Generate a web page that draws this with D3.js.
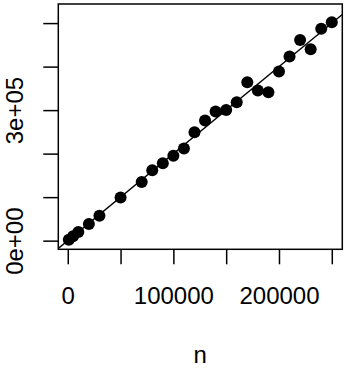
<!DOCTYPE html>
<html>
<head>
<meta charset="utf-8">
<script src="https://cdn.jsdelivr.net/npm/d3@7"></script>
<style>
  body { margin: 0; background: #fff; }
  text { font-family: "Liberation Sans", Arial, sans-serif; fill: #000; }
</style>
</head>
<body>
<div class="chart"></div>
<script>
var width = 357, height = 368;

// data
var nValues = [1000, 5000, 10000, 20000, 30000, 50000, 70000, 80000, 90000, 100000,
               110000, 120000, 130000, 140000, 150000, 160000, 170000, 180000, 190000,
               200000, 210000, 220000, 230000, 240000, 250000];
var yValues = [2000, 10000, 20000, 38000, 57000, 99000, 135000, 162000, 178000, 195000,
               212000, 249000, 276000, 297000, 300000, 318000, 364000, 345000, 341000,
               389000, 423000, 461000, 440000, 487000, 502000];
var fitLine = [0, 2]; // intercept, slope
var xLim = [1000, 250000];
var yLim = [1000, 523000];
var xTicks = [0, 50000, 100000, 150000, 200000, 250000];
var xTickLabels = ["0", "", "100000", "", "200000", ""];
var yTicks = [0, 100000, 200000, 300000, 400000, 500000];
var yTickLabels = ["0e+00", "", "", "3e+05", "", ""];

var box = { left: 58.3, right: 342.3, top: 4, bottom: 249.3 };

function pad(lim) { // R style 4% extension
    var d = (lim[1] - lim[0]) * 0.04;
    return [lim[0] - d, lim[1] + d];
}

var x = d3.scaleLinear().domain(pad(xLim)).range([box.left, box.right]);
var y = d3.scaleLinear().domain(pad(yLim)).range([box.bottom, box.top]);

var svg = d3.select(".chart").append("svg")
            .attr("width", width)
            .attr("height", height);

// fitted line, clipped to the box
svg.append("clipPath").attr("id", "clip")
   .append("rect")
   .attr("x", box.left).attr("y", box.top)
   .attr("width", box.right - box.left).attr("height", box.bottom - box.top);

var xd = x.domain();
svg.append("line")
   .attr("clip-path", "url(#clip)")
   .attr("x1", x(xd[0])).attr("y1", y(fitLine[0] + fitLine[1] * xd[0]))
   .attr("x2", x(xd[1])).attr("y2", y(fitLine[0] + fitLine[1] * xd[1]))
   .attr("stroke", "#000")
   .attr("stroke-width", 1.4);

svg.append("g").selectAll("circle")
   .data(nValues)
   .enter().append("circle")
   .attr("cx", function(d) { return x(d); })
   .attr("cy", function(d, i) { return y(yValues[i]); })
   .attr("r", 6)
   .attr("fill", "#000");

// axes
var xAxis = d3.axisBottom(x)
              .tickValues(xTicks)
              .tickFormat(function(d, i) { return xTickLabels[i]; })
              .tickSize(15)
              .tickPadding(22.7);

var gx = svg.append("g")
            .attr("transform", "translate(0," + box.bottom + ")")
            .call(xAxis);
gx.select(".domain").remove();

var yAxis = d3.axisLeft(y)
              .tickValues(yTicks)
              .tickFormat(function(d, i) { return yTickLabels[i]; })
              .tickSize(15);

var gy = svg.append("g")
            .attr("transform", "translate(" + box.left + ",0)")
            .call(yAxis);
gy.select(".domain").remove();
gy.selectAll("text")
  .attr("x", 0)
  .attr("y", -35.3)
  .attr("dy", null)
  .attr("transform", "rotate(-90)")
  .attr("text-anchor", "middle");

svg.selectAll(".tick line").attr("stroke", "#000").attr("stroke-width", 1.5);
svg.selectAll(".tick text")
   .attr("font-family", "Liberation Sans, Arial, sans-serif")
   .attr("font-size", 24)
   .attr("fill", "#000");

// box
svg.append("rect")
   .attr("x", box.left).attr("y", box.top)
   .attr("width", box.right - box.left).attr("height", box.bottom - box.top)
   .attr("fill", "none")
   .attr("stroke", "#000")
   .attr("stroke-width", 1.5);

// axis title
svg.append("text")
   .attr("x", (box.left + box.right) / 2)
   .attr("y", 363)
   .attr("text-anchor", "middle")
   .attr("font-size", 24)
   .text("n");
</script>
</body>
</html>
